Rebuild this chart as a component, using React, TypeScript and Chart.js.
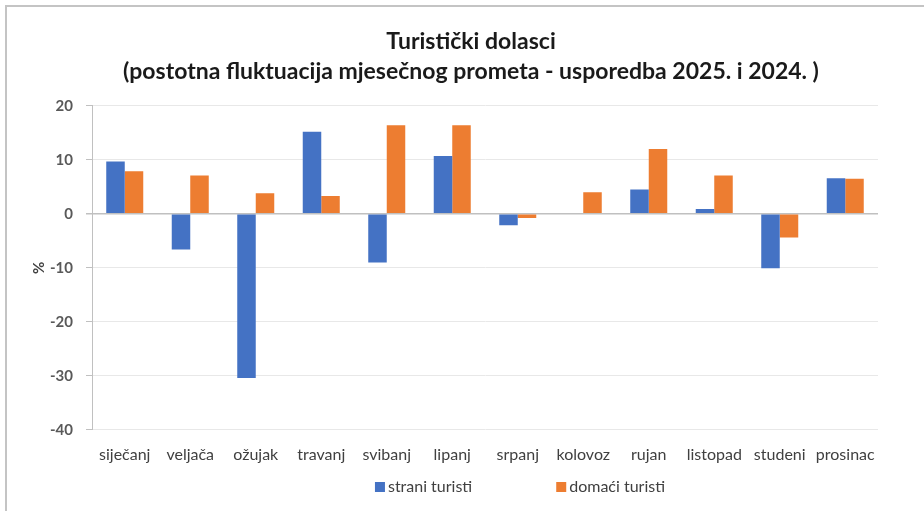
import React, { useEffect, useRef } from "react";
import { Chart, registerables } from "chart.js";

Chart.register(...registerables);

const months = [
  "siječanj", "veljača", "ožujak", "travanj", "svibanj", "lipanj",
  "srpanj", "kolovoz", "rujan", "listopad", "studeni", "prosinac",
];
const straniTuristi = [9.7, -6.6, -30.4, 15.2, -9.0, 10.7, -2.1, 0, 4.5, 0.9, -10.1, 6.6];
const domaciTuristi = [7.9, 7.1, 3.8, 3.3, 16.4, 16.4, -0.8, 4.0, 12.0, 7.1, -4.4, 6.5];
const seriesNames = ["strani turisti", "domaći turisti"];
const titleLines = [
  "Turistički dolasci",
  "(postotna fluktuacija mjesečnog prometa - usporedba 2025. i 2024. )",
];
const yMin = -40;
const yMax = 20;
const yStep = 10;

const FONT = "Lato, 'Open Sans', sans-serif";

const titleShiftPlugin = {
  id: "titleShift",
  afterLayout(chart: any) {
    const t = chart.titleBlock;
    if (t) {
      t.left += 22;
      t.right += 22;
    }
  },
};

const legendPlugin = {
  id: "customLegend",
  afterDraw(chart: any) {
    const ctx = chart.ctx;
    const area = chart.chartArea;
    const ds = chart.data.datasets;
    ctx.save();
    ctx.font = `16px ${FONT}`;
    ctx.textBaseline = "middle";
    const box = 10;
    const gapText = 3;
    const itemGap = 84;
    const widths = ds.map((d: any) => box + gapText + ctx.measureText(d.label).width);
    const total = widths.reduce((a: number, b: number) => a + b, 0) + itemGap * (ds.length - 1);
    const center = (area.left + area.right) / 2 + 35;
    let x = center - total / 2;
    const y = chart.height - 24;
    ds.forEach((d: any, i: number) => {
      ctx.fillStyle = d.backgroundColor;
      ctx.fillRect(x, y - box / 2, box, box);
      ctx.fillStyle = "#404040";
      ctx.textAlign = "left";
      ctx.fillText(d.label, x + box + gapText, y);
      x += widths[i] + itemGap;
    });
    ctx.restore();
  },
};

export default function App() {
  const canvasRef = useRef<HTMLCanvasElement | null>(null);

  useEffect(() => {
    document.body.style.margin = "0";
    const canvas = canvasRef.current;
    if (!canvas) return;
    const chart = new Chart(canvas, {
      type: "bar",
      data: {
        labels: months,
        datasets: [
          {
            label: seriesNames[0],
            data: straniTuristi,
            backgroundColor: "#4472C4",
            borderWidth: 0,
            categoryPercentage: 0.565,
            barPercentage: 1.0,
          },
          {
            label: seriesNames[1],
            data: domaciTuristi,
            backgroundColor: "#ED7D31",
            borderWidth: 0,
            categoryPercentage: 0.565,
            barPercentage: 1.0,
          },
        ],
      },
      options: {
        animation: false,
        responsive: true,
        maintainAspectRatio: false,
        layout: { padding: { left: 20, right: 46, top: 0, bottom: 32 } },
        plugins: {
          legend: { display: false },
          tooltip: { enabled: false },
          title: {
            display: true,
            text: titleLines,
            color: "#1a1a1a",
            font: { family: FONT, size: 23, weight: "bold", lineHeight: 1.3 },
            padding: { top: 27, bottom: 19 },
          },
        },
        scales: {
          x: {
            grid: { display: false, drawTicks: false },
            border: { display: false },
            ticks: {
              color: "#404040",
              font: { family: FONT, size: 16 },
              padding: 15,
              maxRotation: 0,
              autoSkip: false,
            },
          },
          y: {
            min: yMin,
            max: yMax,
            afterFit(scale: any) {
              scale.width = 72;
            },
            ticks: {
              stepSize: yStep,
              color: "#595959",
              font: { family: FONT, size: 15, weight: "bold" },
              padding: 13,
            },
            grid: {
              color: (c: any) => (c.tick && c.tick.value === 0 ? "#c0c0c0" : "#e8e8e8"),
              lineWidth: (c: any) => (c.tick && c.tick.value === 0 ? 1.5 : 1),
              tickLength: 6,
              tickColor: "#c0c0c0",
            },
            border: { display: true, color: "#c0c0c0", width: 1 },
            title: {
              display: true,
              text: "%",
              color: "#404040",
              font: { family: FONT, size: 15, weight: "bold" },
              padding: { top: 10, bottom: 0 },
            },
          },
        },
      },
      plugins: [titleShiftPlugin, legendPlugin],
    });
    return () => chart.destroy();
  }, []);

  return (
    <div style={{ position: "absolute", left: 0, top: 0, width: 924, height: 511, background: "#fff" }}>
      <canvas ref={canvasRef} />
      <div
        style={{
          position: "absolute",
          left: 5,
          top: 5,
          right: 0,
          bottom: 0,
          borderTop: "2px solid #c4c4c4",
          borderLeft: "2px solid #c4c4c4",
          pointerEvents: "none",
        }}
      />
    </div>
  );
}
